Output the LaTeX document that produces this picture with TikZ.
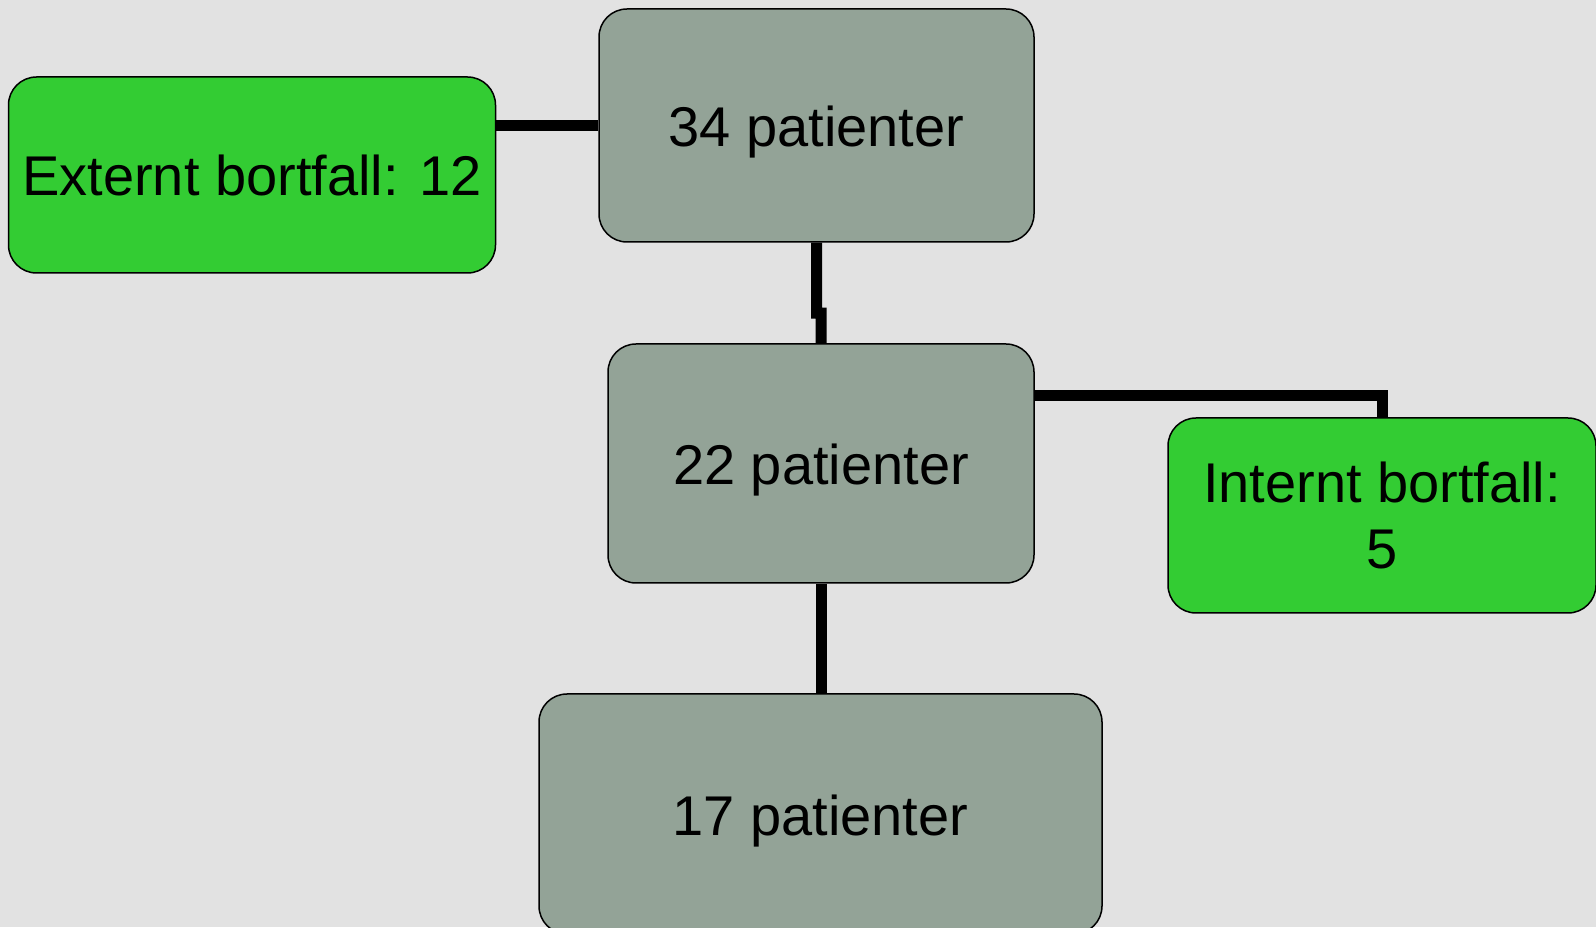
\documentclass[tikz,border=0pt]{standalone}
\usepackage{fontspec}
\setmainfont{Liberation Sans}
\usepackage{tikz}
\usetikzlibrary{calc, positioning}
\definecolor{bgpage}{RGB}{226,226,226}
\definecolor{boxgray}{RGB}{147,163,151}
\definecolor{boxgreen}{RGB}{51,204,51}
\tikzset{
    roundbox/.style={draw=black, line width=1.5pt, rounded corners=28pt,
        font=\fontsize{56}{66}\selectfont, align=center, inner sep=0pt},
    patbox/.style={roundbox, fill=boxgray, text height=55pt, text depth=12pt},
    dropbox/.style={roundbox, fill=boxgreen},
    link/.style={line width=11pt}
}
\begin{document}
\begin{tikzpicture}[x=1pt, y=1pt]
    \fill[bgpage] (0,0) rectangle (1596,927);
    \useasboundingbox (0,0) rectangle (1596,927);
    \node[patbox, minimum width=435pt, minimum height=233pt] (p34) at (816.5,801.5) {34 patienter};
    \node[dropbox, minimum width=487pt, minimum height=196pt] (ext) at (252,752) {Externt bortfall: 12};
    \node[patbox, minimum width=426pt, minimum height=239pt] (p22) at (821,463.5) {22 patienter};
    \node[dropbox, minimum width=428pt, minimum height=195pt] (int) at (1382,411.5) {Internt bortfall:\\5};
    \node[patbox, minimum width=563pt, minimum height=240pt] (p17) at (820.5,113) {17 patienter};
    \coordinate (jog) at ($(p34.south)!0.7!(p34.south |- p22.north)$);
    \draw[link] (p34.west) -- (p34.west -| ext.east);
    \draw[link] (p34.south) -- (jog) -| (p22.north);
    \draw[link] ([yshift=-52pt]p22.north east) -| (int.north);
    \draw[link] (p22.south) -- (p22.south |- p17.north);
\end{tikzpicture}
\end{document}
